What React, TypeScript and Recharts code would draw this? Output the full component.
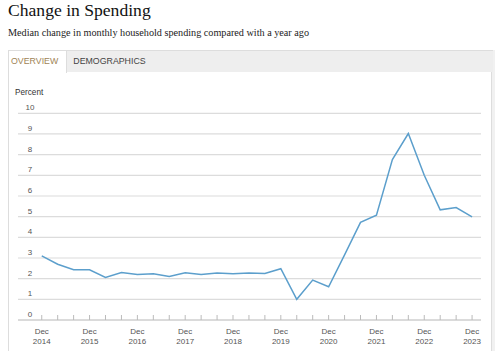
// Change in Spending: median change in monthly household spending, every 4 months.

import { CartesianGrid, Line, LineChart, XAxis, YAxis } from "recharts";

const periods = [
  "Dec 2014", "Apr 2015", "Aug 2015", "Dec 2015", "Apr 2016", "Aug 2016",
  "Dec 2016", "Apr 2017", "Aug 2017", "Dec 2017", "Apr 2018", "Aug 2018",
  "Dec 2018", "Apr 2019", "Aug 2019", "Dec 2019", "Apr 2020", "Aug 2020",
  "Dec 2020", "Apr 2021", "Aug 2021", "Dec 2021", "Apr 2022", "Aug 2022",
  "Dec 2022", "Apr 2023", "Aug 2023", "Dec 2023",
];

const spending = [
  3.1, 2.7, 2.43, 2.43, 2.06, 2.3, 2.2, 2.24, 2.11, 2.29, 2.2, 2.27, 2.24,
  2.27, 2.25, 2.48, 1.0, 1.93, 1.61, 3.15, 4.72, 5.07, 7.76, 9.02, 7.0, 5.33,
  5.44, 4.99,
];

const yTicks = [0, 1, 2, 3, 4, 5, 6, 7, 8, 9, 10];

const data = periods.map((p, i) => ({ i, period: p, value: spending[i] }));
const xTicks = periods.map((_, i) => i);

const SANS = "Arial, 'Liberation Sans', sans-serif";
const SERIF = "'Liberation Serif', 'Times New Roman', serif";

function XTick(props: any) {
  const { x, y, payload } = props;
  const label: string = periods[payload.value] ?? "";
  const [month, year] = label.split(" ");
  return (
    <g>
      <line x1={x} x2={x} y1={y - 5} y2={y} stroke="#bbb" strokeWidth={1} />
      {month === "Dec" && (
        <text x={x} y={y} textAnchor="middle" fontSize={8} fill="#555" fontFamily={SANS}>
          <tspan x={x} dy={13.5}>{month}</tspan>
          <tspan x={x} dy={10.5}>{year}</tspan>
        </text>
      )}
    </g>
  );
}

// labels sit inside the plot, just above their gridline
function YTick(props: any) {
  const { x, y, payload } = props;
  return (
    <text x={x + 12} y={y - 3} textAnchor="middle" fontSize={8} fill="#555" fontFamily={SANS}>
      {payload.value}
    </text>
  );
}

export default function App() {
  return (
    <div style={{ position: "absolute", left: 0, top: 0, width: 500, height: 351, background: "#fff", overflow: "hidden" }}>
      <div style={{ position: "absolute", left: 8, top: 2, fontFamily: SERIF, fontSize: 17.6, lineHeight: "17.6px", color: "#111", whiteSpace: "nowrap" }}>
        Change in Spending
      </div>
      <div style={{ position: "absolute", left: 8, top: 28, fontFamily: SERIF, fontSize: 10.2, lineHeight: "10.2px", color: "#222", whiteSpace: "nowrap" }}>
        Median change in monthly household spending compared with a year ago
      </div>

      {/* panel */}
      <div style={{ position: "absolute", left: 8, top: 50, width: 484, height: 310, border: "1px solid #ddd", boxShadow: "3px 0 0 #f1f1f1", boxSizing: "border-box" }} />
      <div style={{ position: "absolute", left: 8, top: 50, width: 485, height: 22, background: "#eeeeee", borderTop: "1px solid #ddd", boxSizing: "border-box" }} />
      <div style={{ position: "absolute", left: 8, top: 50, width: 59, height: 23, background: "#fff", borderLeft: "1px solid #ddd", borderTop: "1px solid #ddd", borderRight: "1px solid #ddd", boxSizing: "border-box" }} />
      <div style={{ position: "absolute", left: 11, top: 56.7, fontFamily: SANS, fontSize: 8.8, lineHeight: "8.8px", color: "#a08456", whiteSpace: "nowrap" }}>
        OVERVIEW
      </div>
      <div style={{ position: "absolute", left: 73.3, top: 56.7, fontFamily: SANS, fontSize: 8.8, lineHeight: "8.8px", color: "#444", whiteSpace: "nowrap" }}>
        DEMOGRAPHICS
      </div>
      <div style={{ position: "absolute", left: 15, top: 89.3, fontFamily: SANS, fontSize: 8.2, lineHeight: "8.2px", color: "#333", whiteSpace: "nowrap" }}>
        Percent
      </div>

      <div style={{ position: "absolute", left: 0, top: 80 }}>
        <LineChart width={500} height={271} data={data} margin={{ top: 33.3, right: 19, bottom: 0, left: 17 }}>
          <CartesianGrid vertical={false} stroke="#dcdcdc" strokeWidth={1.2} />
          <XAxis
            dataKey="i"
            type="number"
            domain={[-1.49, 27.56]}
            allowDataOverflow
            ticks={xTicks}
            interval={0}
            height={31}
            tickSize={0}
            tickMargin={0}
            tickLine={false}
            axisLine={{ stroke: "#c8c8c8" }}
            tick={<XTick />}
          />
          <YAxis
            type="number"
            domain={[0, 10]}
            ticks={yTicks}
            interval={0}
            width={1}
            tickSize={0}
            tickMargin={0}
            axisLine={false}
            tickLine={false}
            tick={<YTick />}
          />
          <Line
            type="linear"
            dataKey="value"
            stroke="#5c9fcc"
            strokeWidth={1.5}
            dot={false}
            activeDot={false}
            isAnimationActive={false}
          />
        </LineChart>
      </div>
    </div>
  );
}
